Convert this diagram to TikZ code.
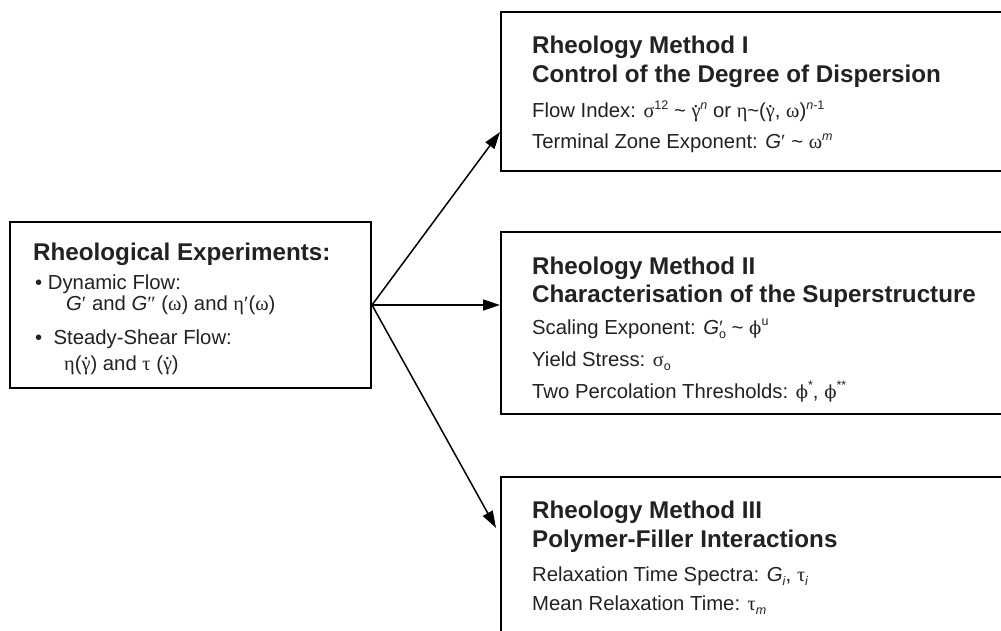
\documentclass[tikz,border=0pt]{standalone}
\usepackage{fontspec}
\setmainfont{Liberation Sans}
\newfontfamily\gr{Liberation Serif}
\newfontfamily\dvs{DejaVu Serif}
\usetikzlibrary{arrows.meta}
\definecolor{ink}{HTML}{222222}
\newcommand\gk[1]{{\gr #1}}
\newcommand\gdot{\mbox{\ooalign{\gr γ\cr\hidewidth\raisebox{0.5em}{\gr .}\hidewidth\cr}}}
\newcommand\tl{\textasciitilde}
\newcommand\phis{{\dvs\fontsize{18}{20}\selectfont ϕ}}
\newcommand\sups[1]{\raisebox{0.42em}{\fontsize{12.5}{13}\selectfont #1}}
\newcommand\subs[1]{\raisebox{-0.22em}{\fontsize{12.5}{13}\selectfont #1}}
\begin{document}
\begin{tikzpicture}[x=1pt,y=-1pt,
  box/.style={draw=black,line width=2pt,rectangle,inner sep=0pt},
  ttl/.style={font=\bfseries\fontsize{24.2}{29}\selectfont,text=ink,anchor=base west,inner sep=0pt},
  txt/.style={font=\fontsize{20.3}{24}\selectfont,text=ink,anchor=base west,inner sep=0pt},
  arr/.style={draw=black,line width=1.5pt,-{Triangle[length=17pt,width=11pt]}}]
\path[use as bounding box,clip] (0,0) rectangle (1001,631);
\fill[white] (0,0) rectangle (1001,631);
% boxes
\node[box,minimum width=361pt,minimum height=166pt] (exp) at (190.5,305) {};
\node[box,minimum width=529pt,minimum height=159pt] (m1) at (765.5,91.5) {};
\node[box,minimum width=529pt,minimum height=182pt] (m2) at (765.5,323) {};
\node[box,minimum width=529pt,minimum height=203pt] (m3) at (765.5,578.5) {};
% left texts
\node[ttl] (e0) at (33,260) {Rheological Experiments:};
\node[txt] (e1) at (35,289) {\textbullet\ Dynamic Flow:};
\node[txt] (e2) at (66,310) {\textit{G}\gk{′} and \textit{G}\gk{″} (\gk{ω}) and \gk{η′}(\gk{ω})};
\node[txt] (e3) at (35,344) {\textbullet\ \ Steady-Shear Flow:};
\node[txt] (e4) at (64,370) {\gk{η}(\gdot) and \gk{τ} (\gdot)};
% method I
\node[ttl] (a0) at (532,54) {Rheology Method I};
\node[ttl] (a1) at (532,83) {Control of the Degree of Dispersion};
\node[txt] (a2) at (532,118) {Flow Index: \gk{σ}\sups{12} \tl{} \gdot\sups{\textit{n}} or \gk{η}\tl(\gdot, \gk{ω})\sups{\textit{n}-1}};
\node[txt] (a3) at (532,149) {Terminal Zone Exponent: \textit{G}\gk{′} \tl{} \gk{ω}\sups{\textit{m}}};
% method II
\node[ttl] (b0) at (532,274) {Rheology Method II};
\node[ttl] (b1) at (532,302) {Characterisation of the Superstructure};
\node[txt] (b2) at (532,334) {Scaling Exponent: \textit{G}\rlap{\gk{′}}\subs{o} \tl{} \phis\sups{u}};
\node[txt] (b3) at (532,366) {Yield Stress: \gk{σ}\subs{o}};
\node[txt] (b4) at (532,398) {Two Percolation Thresholds: \phis\sups{*}, \phis\sups{**}};
% method III
\node[ttl] (c0) at (532,518) {Rheology Method III};
\node[ttl] (c1) at (532,547) {Polymer-Filler Interactions};
\node[txt] (c2) at (532,581) {Relaxation Time Spectra: \textit{G}\subs{\textit{i}}, \gk{τ}\subs{\textit{i}}};
\node[txt] (c3) at (532,610) {Mean Relaxation Time: \gk{τ}\subs{\textit{m}}};
% connectors
\coordinate (t1) at (500,132);
\coordinate (t3) at (496,528);
\draw[arr] (exp.east) -- (t1);
\draw[arr] (exp.east) -- (exp.east -| m2.west);
\draw[arr] (exp.east) -- (t3);
\end{tikzpicture}
\end{document}
